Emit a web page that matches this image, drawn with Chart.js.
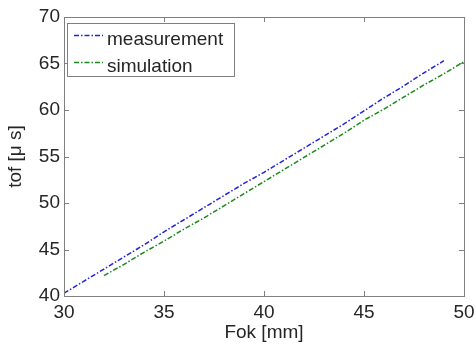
<!DOCTYPE html>
<html>
<head>
<meta charset="utf-8">
<script src="https://cdn.jsdelivr.net/npm/chart.js@4.4.0/dist/chart.umd.min.js"></script>
<style>
html,body{margin:0;padding:0;background:#fff;}
#wrap{width:476px;height:344px;position:relative;}
</style>
</head>
<body>
<div id="wrap"><canvas id="c" width="476" height="344"></canvas></div>
<script>
const fokMeasurement = [30,31,32,33,34,35,36,37,38,39,40,41,42,43,44,45,46,47,48,49];
const tofMeasurement = [40.3,41.6,42.9,44.2,45.5,46.9,48.2,49.5,50.8,52.1,53.3,54.6,55.9,57.2,58.5,59.9,61.3,62.6,64.0,65.3];
const fokSimulation = [32,33,34,35,36,37,38,39,40,41,42,43,44,45,46,47,48,49,50];
const tofSimulation = [42.2,43.4,44.7,45.9,47.2,48.4,49.7,51.0,52.3,53.6,54.9,56.2,57.5,58.9,60.1,61.4,62.7,63.9,65.2];
const seriesLabels = ["measurement","simulation"];
const xTicks = [30,35,40,45,50];
const yTicks = [40,45,50,55,60,65,70];

const FONT = "'Liberation Sans', Arial, sans-serif";
const AXIS = '#7f7f7f';
const TXT = '#262626';

const framePlugin = {
  id: 'frame',
  afterDatasetsDraw(chart) {
    const ctx = chart.ctx, a = chart.chartArea;
    const xs = chart.scales.x, ys = chart.scales.y;
    ctx.save();
    ctx.strokeStyle = AXIS;
    ctx.lineWidth = 1;
    ctx.strokeRect(Math.round(a.left)+0.5, Math.round(a.top)+0.5, Math.round(a.right-a.left), Math.round(a.bottom-a.top));
    const tl = 5;
    ctx.beginPath();
    xTicks.forEach(v => {
      const px = Math.round(xs.getPixelForValue(v))+0.5;
      ctx.moveTo(px, a.bottom); ctx.lineTo(px, a.bottom - tl);
      ctx.moveTo(px, a.top); ctx.lineTo(px, a.top + tl);
    });
    yTicks.forEach(v => {
      const py = Math.round(ys.getPixelForValue(v))+0.5;
      ctx.moveTo(a.left, py); ctx.lineTo(a.left + tl, py);
      ctx.moveTo(a.right, py); ctx.lineTo(a.right - tl, py);
    });
    ctx.stroke();

    // legend box
    const bx = 67, by = 23, bw = 167, bh = 53;
    ctx.fillStyle = '#fff';
    ctx.fillRect(bx, by, bw, bh);
    ctx.strokeRect(bx+0.5, by+0.5, bw, bh);
    const rows = [35, 62];
    chart.data.datasets.forEach((ds, i) => {
      ctx.save();
      ctx.strokeStyle = ds.borderColor;
      ctx.lineWidth = 1.5;
      ctx.setLineDash(ds.borderDash);
      ctx.beginPath();
      ctx.moveTo(74, rows[i]+0.5); ctx.lineTo(103, rows[i]+0.5);
      ctx.stroke();
      ctx.restore();
      ctx.fillStyle = TXT;
      ctx.font = '19px ' + FONT;
      ctx.textBaseline = 'alphabetic';
      ctx.fillText(ds.label, 107, rows[i] + 10);
    });
    ctx.restore();
  }
};

new Chart(document.getElementById('c'), {
  type: 'line',
  data: {
    datasets: [
      {
        label: seriesLabels[0],
        data: fokMeasurement.map((x, i) => ({x, y: tofMeasurement[i]})),
        borderColor: '#2323d8',
        borderWidth: 1.5,
        borderDash: [5,2,1.5,2],
        pointRadius: 0,
        fill: false,
        tension: 0
      },
      {
        label: seriesLabels[1],
        data: fokSimulation.map((x, i) => ({x, y: tofSimulation[i]})),
        borderColor: '#1a8a1a',
        borderWidth: 1.5,
        borderDash: [5,2,1.5,2],
        pointRadius: 0,
        fill: false,
        tension: 0
      }
    ]
  },
  options: {
    responsive: false,
    animation: false,
    devicePixelRatio: 1,
    layout: { padding: { left: 4, right: 12, top: 17, bottom: 0 } },
    plugins: { legend: { display: false }, tooltip: { enabled: false } },
    scales: {
      x: {
        type: 'linear', min: 30, max: 50,
        afterBuildTicks: s => { s.ticks = xTicks.map(v => ({value: v})); },
        afterFit: s => { s.height = 48; s.paddingRight = 0; s.paddingLeft = 0; },
        grid: { display: false, drawTicks: false },
        border: { display: false },
        ticks: { color: TXT, font: { family: FONT, size: 19 }, padding: 5, maxRotation: 0 },
        title: { display: true, text: 'Fok [mm]', color: TXT, font: { family: FONT, size: 19 }, padding: { top: 0, bottom: 0 } }
      },
      y: {
        type: 'linear', min: 40, max: 70,
        afterBuildTicks: s => { s.ticks = yTicks.map(v => ({value: v})); },
        afterFit: s => { s.width = 60; s.paddingTop = 0; s.paddingBottom = 0; },
        grid: { display: false, drawTicks: false },
        border: { display: false },
        ticks: { color: TXT, font: { family: FONT, size: 19 }, padding: 4 },
        title: { display: true, text: 'tof [\u03bc s]', color: TXT, font: { family: FONT, size: 19 }, padding: { top: 0, bottom: 0 } }
      }
    }
  },
  plugins: [framePlugin]
});
</script>
</body>
</html>
